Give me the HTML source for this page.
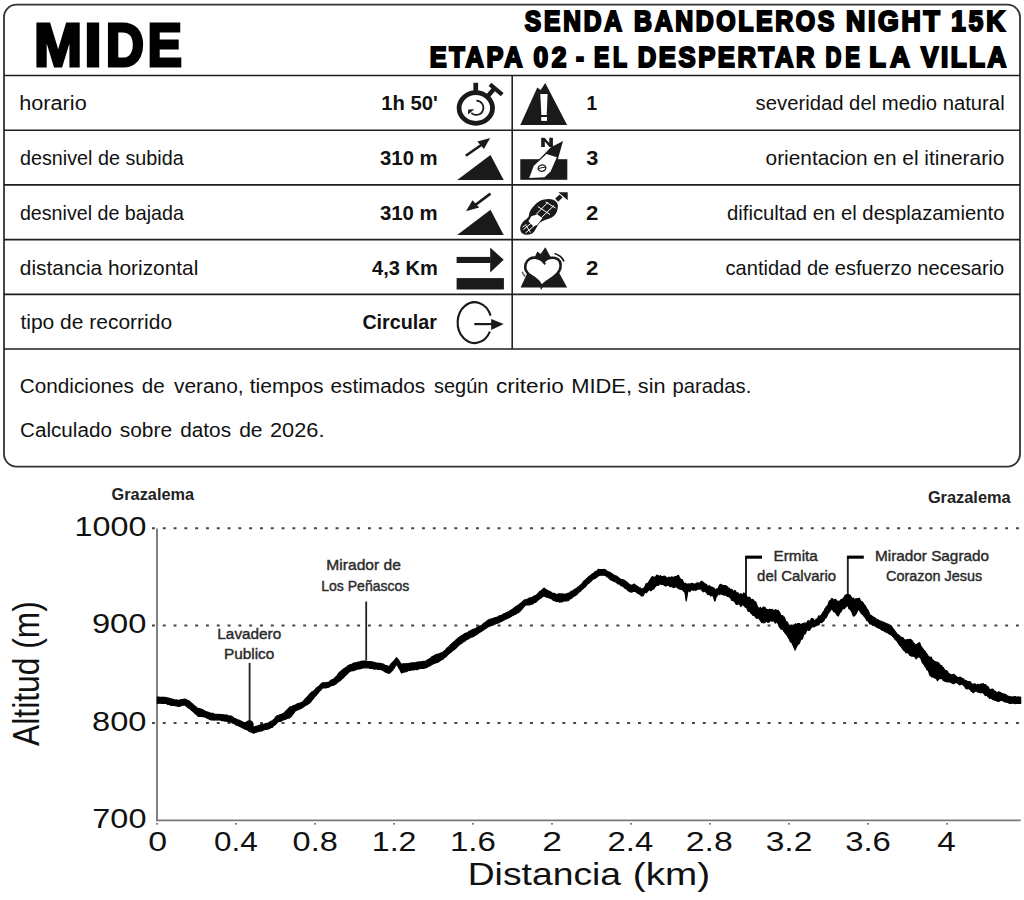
<!DOCTYPE html>
<html><head><meta charset="utf-8"><title>MIDE</title>
<style>html,body{margin:0;padding:0;background:#fff;width:1024px;height:900px;overflow:hidden}svg{display:block}text{font-family:"Liberation Sans",sans-serif}</style>
</head><body>
<svg width="1024" height="900" viewBox="0 0 1024 900">
<rect width="1024" height="900" fill="#fff"/>
<rect x="4.0" y="4.67" width="1016" height="461.9" rx="12.5" ry="12.5" fill="none" stroke="#333" stroke-width="1.8"/>
<line x1="4.0" y1="75.45" x2="1020" y2="75.45" stroke="#1e1e1e" stroke-width="1.6"/>
<line x1="4.0" y1="130.2" x2="1020" y2="130.2" stroke="#1e1e1e" stroke-width="1.6"/>
<line x1="4.0" y1="184.9" x2="1020" y2="184.9" stroke="#1e1e1e" stroke-width="1.6"/>
<line x1="4.0" y1="239.6" x2="1020" y2="239.6" stroke="#1e1e1e" stroke-width="1.6"/>
<line x1="4.0" y1="294.4" x2="1020" y2="294.4" stroke="#1e1e1e" stroke-width="1.6"/>
<line x1="4.0" y1="349.0" x2="1020" y2="349.0" stroke="#1e1e1e" stroke-width="1.6"/>
<line x1="512.2" y1="75.45" x2="512.2" y2="349" stroke="#222" stroke-width="1.6"/>
<text transform="translate(33.92,65.95) scale(0.9472,1.0)" font-size="61" font-weight="bold" fill="#000" stroke="#000" stroke-width="3.1" stroke-linejoin="miter">M</text>
<text transform="translate(84.31,65.95) scale(1.0341,1.0)" font-size="61" font-weight="bold" fill="#000" stroke="#000" stroke-width="3.1" stroke-linejoin="miter">I</text>
<text transform="translate(105.69,65.95) scale(0.8690,1.0)" font-size="61" font-weight="bold" fill="#000" stroke="#000" stroke-width="3.1" stroke-linejoin="miter">D</text>
<text transform="translate(147.57,65.95) scale(0.8480,1.0)" font-size="61" font-weight="bold" fill="#000" stroke="#000" stroke-width="3.1" stroke-linejoin="miter">E</text>
<text transform="translate(524.74,30.90) scale(0.8397,1)" font-size="29.2" font-weight="bold" letter-spacing="3.426" fill="#000" stroke="#000" stroke-width="2.2" stroke-linejoin="miter">SENDA</text>
<text transform="translate(634.10,30.90) scale(0.8503,1)" font-size="29.2" font-weight="bold" letter-spacing="3.098" fill="#000" stroke="#000" stroke-width="2.2" stroke-linejoin="miter">BANDOLEROS</text>
<text transform="translate(845.97,30.90) scale(0.9128,1)" font-size="29.2" font-weight="bold" letter-spacing="3.017" fill="#000" stroke="#000" stroke-width="2.2" stroke-linejoin="miter">NIGHT</text>
<text transform="translate(951.20,30.90) scale(0.8903,1)" font-size="29.2" font-weight="bold" letter-spacing="3.511" fill="#000" stroke="#000" stroke-width="2.2" stroke-linejoin="miter">15K</text>
<text transform="translate(429.67,67.20) scale(0.8666,1)" font-size="29.2" font-weight="bold" letter-spacing="3.130" fill="#000" stroke="#000" stroke-width="2.2" stroke-linejoin="miter">ETAPA</text>
<text transform="translate(533.42,67.20) scale(0.9005,1)" font-size="29.2" font-weight="bold" letter-spacing="4.105" fill="#000" stroke="#000" stroke-width="2.2" stroke-linejoin="miter">02</text>
<text transform="translate(575.91,67.20) scale(0.8133,1.0)" font-size="29.2" font-weight="bold" fill="#000" stroke="#000" stroke-width="2.2" stroke-linejoin="miter">-</text>
<text transform="translate(594.03,67.20) scale(0.7853,1)" font-size="29.2" font-weight="bold" letter-spacing="4.691" fill="#000" stroke="#000" stroke-width="2.2" stroke-linejoin="miter">EL</text>
<text transform="translate(637.75,67.20) scale(0.8755,1)" font-size="29.2" font-weight="bold" letter-spacing="2.988" fill="#000" stroke="#000" stroke-width="2.2" stroke-linejoin="miter">DESPERTAR</text>
<text transform="translate(825.49,67.20) scale(0.7529,1)" font-size="29.2" font-weight="bold" letter-spacing="5.100" fill="#000" stroke="#000" stroke-width="2.2" stroke-linejoin="miter">DE</text>
<text transform="translate(869.15,67.20) scale(0.9263,1)" font-size="29.2" font-weight="bold" letter-spacing="4.923" fill="#000" stroke="#000" stroke-width="2.2" stroke-linejoin="miter">LA</text>
<text transform="translate(921.02,67.20) scale(0.8916,1)" font-size="29.2" font-weight="bold" letter-spacing="2.843" fill="#000" stroke="#000" stroke-width="2.2" stroke-linejoin="miter">VILLA</text>
<text transform="translate(19.18,110.40) scale(1.0850,1.0)" font-size="20" font-weight="normal" fill="#111">horario</text>
<text transform="translate(381.15,110.40) scale(1.0382,1.0)" font-size="19.5" font-weight="bold" fill="#111">1h 50'</text>
<text transform="translate(19.91,165.00) scale(0.9891,1.0)" font-size="20" font-weight="normal" fill="#111">desnivel de subida</text>
<text transform="translate(379.98,165.00) scale(1.0448,1.0)" font-size="19.5" font-weight="bold" fill="#111">310 m</text>
<text transform="translate(19.91,220.00) scale(0.9837,1.0)" font-size="20" font-weight="normal" fill="#111">desnivel de bajada</text>
<text transform="translate(379.88,220.00) scale(1.0466,1.0)" font-size="19.5" font-weight="bold" fill="#111">310 m</text>
<text transform="translate(19.87,274.80) scale(1.0426,1.0)" font-size="20" font-weight="normal" fill="#111">distancia horizontal</text>
<text transform="translate(371.99,274.80) scale(1.0304,1.0)" font-size="19.5" font-weight="bold" fill="#111">4,3 Km</text>
<text transform="translate(20.39,329.40) scale(1.0495,1.0)" font-size="20" font-weight="normal" fill="#111">tipo de recorrido</text>
<text transform="translate(362.39,329.40) scale(1.0110,1.0)" font-size="19.5" font-weight="bold" fill="#111">Circular</text>
<text transform="translate(586.53,110.40) scale(0.9780,1.0)" font-size="19.5" font-weight="bold" fill="#111">1</text>
<text transform="translate(755.59,110.40) scale(1.0148,1.0)" font-size="20" font-weight="normal" fill="#111">severidad del medio natural</text>
<text transform="translate(586.24,165.00) scale(1.1146,1.0)" font-size="19.5" font-weight="bold" fill="#111">3</text>
<text transform="translate(765.57,165.00) scale(1.0431,1.0)" font-size="20" font-weight="normal" fill="#111">orientacion en el itinerario</text>
<text transform="translate(586.00,220.00) scale(1.1383,1.0)" font-size="19.5" font-weight="bold" fill="#111">2</text>
<text transform="translate(726.99,220.00) scale(1.0151,1.0)" font-size="20" font-weight="normal" fill="#111">dificultad en el desplazamiento</text>
<text transform="translate(586.00,274.80) scale(1.1383,1.0)" font-size="19.5" font-weight="bold" fill="#111">2</text>
<text transform="translate(725.60,274.80) scale(1.0033,1.0)" font-size="20" font-weight="normal" fill="#111">cantidad de esfuerzo necesario</text>
<text transform="translate(19.84,392.80) scale(1.0574,1.0)" font-size="19.6" font-weight="normal" fill="#111">Condiciones</text>
<text transform="translate(141.86,392.80) scale(1.0498,1.0)" font-size="19.6" font-weight="normal" fill="#111">de</text>
<text transform="translate(173.99,392.80) scale(1.0661,1.0)" font-size="19.6" font-weight="normal" fill="#111">verano,</text>
<text transform="translate(249.68,392.80) scale(1.0769,1.0)" font-size="19.6" font-weight="normal" fill="#111">tiempos</text>
<text transform="translate(330.55,392.80) scale(1.0604,1.0)" font-size="19.6" font-weight="normal" fill="#111">estimados</text>
<text transform="translate(433.99,392.80) scale(1.0175,1.0)" font-size="19.6" font-weight="normal" fill="#111">según</text>
<text transform="translate(495.98,392.80) scale(1.1538,1.0)" font-size="19.6" font-weight="normal" fill="#111">criterio</text>
<text transform="translate(571.21,392.80) scale(1.1174,1.0)" font-size="19.6" font-weight="normal" fill="#111">MIDE,</text>
<text transform="translate(637.84,392.80) scale(1.1078,1.0)" font-size="19.6" font-weight="normal" fill="#111">sin</text>
<text transform="translate(672.56,392.80) scale(1.0328,1.0)" font-size="19.6" font-weight="normal" fill="#111">paradas.</text>
<text transform="translate(20.05,436.80) scale(1.0539,1.0)" font-size="19.6" font-weight="normal" fill="#111">Calculado</text>
<text transform="translate(119.76,436.80) scale(1.0674,1.0)" font-size="19.6" font-weight="normal" fill="#111">sobre</text>
<text transform="translate(180.25,436.80) scale(1.0603,1.0)" font-size="19.6" font-weight="normal" fill="#111">datos</text>
<text transform="translate(239.14,436.80) scale(1.0746,1.0)" font-size="19.6" font-weight="normal" fill="#111">de</text>
<text transform="translate(269.99,436.80) scale(1.1123,1.0)" font-size="19.6" font-weight="normal" fill="#111">2026.</text>
<ellipse cx="475.8" cy="108" rx="16.7" ry="15.3" fill="none" stroke="#1a1a1a" stroke-width="4.8"/>
<rect x="473.4" y="82.8" width="4.7" height="9" fill="#1a1a1a"/>
<line x1="487.5" y1="96.5" x2="493.5" y2="89.5" stroke="#1a1a1a" stroke-width="4.4"/>
<line x1="490" y1="84.3" x2="502.2" y2="94.7" stroke="#1a1a1a" stroke-width="4.3"/>
<path d="M476.4,100.7 A7.1,7.1 0 1 1 471.3,112.8" fill="none" stroke="#1a1a1a" stroke-width="1.7"/>
<path d="M467.9,114.6 L468.3,109.5 L474.3,109.3 Z" fill="#1a1a1a"/>
<path d="M457.2,179.9 L490.5,155.1 L503.7,179.9 Z" fill="#1a1a1a"/>
<line x1="465.8" y1="155.7" x2="482" y2="144.5" stroke="#1a1a1a" stroke-width="2.6"/>
<path d="M490.2,137.9 L477.4,141.6 L483.9,148.9 Z" fill="#1a1a1a"/>
<path d="M457.2,234.9 L490.5,209.7 L503.7,234.9 Z" fill="#1a1a1a"/>
<line x1="490.5" y1="193.6" x2="474.3" y2="205.8" stroke="#1a1a1a" stroke-width="2.6"/>
<path d="M466,211.3 L472.5,200.3 L479.2,207.6 Z" fill="#1a1a1a"/>
<rect x="456.6" y="256.9" width="34" height="6.1" fill="#1a1a1a"/>
<path d="M490.2,247.6 L503.7,259.8 L490.2,272.4 Z" fill="#1a1a1a"/>
<rect x="456.6" y="278.1" width="47.3" height="11.4" fill="#1a1a1a"/>
<path d="M490.6,315.6 A17,20.4 0 1 0 489.9,331.6" fill="none" stroke="#1a1a1a" stroke-width="2.1"/>
<line x1="474.3" y1="324.1" x2="492" y2="324.1" stroke="#1a1a1a" stroke-width="2.2"/>
<path d="M503.7,324.1 L491.2,318.9 L491.2,329.9 Z" fill="#1a1a1a"/>
<path d="M520.3,125.05 L537.3,87.5 L540.6,90 L545.3,83 L567.1,125.05 Z" fill="#1a1a1a"/>
<path d="M540.3,94.1 L547.6,94.1 L546.7,115 L541.4,115 Z" fill="#fff"/>
<rect x="541.2" y="117" width="5.8" height="3.9" fill="#fff"/>
<rect x="520.3" y="159.2" width="47" height="20.6" fill="#1a1a1a"/>
<path d="M550.6,147.6 L563,141.1 L557.9,159.2 L550.6,172 L544.5,177.8 L528.9,178.4 L533.4,165.3 Z" fill="#1a1a1a"/>
<path d="M546.5,154 L556.8,157.2 L550.6,171.4 L544.5,177.3 L529.2,178.1 L533.7,165.9 Z" fill="#fff"/>
<path d="M541.2,146.9 L541.2,137.7 L544.6,137.7 L549.3,143 L549.3,137.7 L552.9,137.7 L552.9,146.9 L549.5,146.9 L544.8,141.6 L544.8,146.9 Z" fill="#1a1a1a"/>
<ellipse cx="542" cy="168.1" rx="3.9" ry="3.1" fill="none" stroke="#1a1a1a" stroke-width="1.3" transform="rotate(-15 542 168.1)"/>
<path d="M538.6,168.6 Q542,167.3 545.6,167.2" fill="none" stroke="#1a1a1a" stroke-width="1"/>
<path d="M548.4,199.1 C553.5,198.8 558.2,202 557.9,205.8 C557.8,209 557.2,211.3 556.2,213.1 C554.5,216 552.6,217.3 550.6,218.1 C547.3,219.5 545,220 542.8,220.9 C541.2,221.6 540.4,222.2 539.5,223.1 C537.8,225 536.8,227.4 535.6,229.2 C534.4,231.3 533.2,233.1 531.7,233.7 C529.8,234.6 527.8,235 526.1,234.8 C523.8,234.5 521.6,233.3 521.1,232 C520.2,230.3 520,228.7 520.3,227 C520.9,224.6 522,222.9 523.4,221.4 C525,219.8 527.6,218.5 528.4,217 C529.2,215.5 528.9,214.3 529.5,212.5 C530.4,209.8 531.8,208 533.4,206.4 C535.4,204.4 537.6,202.3 540.1,200.8 C542.8,199.6 545.6,199.2 548.4,199.1 Z" fill="#1a1a1a"/>
<path d="M531.4,216.2 L537.3,214.2 L542.3,218.3 L537.3,224.7 L533.4,226.4 L528.4,221.2 Z" fill="#fff"/>
<g stroke="#fff" stroke-width="1" fill="none"><path d="M536.5,214 L548,202.2 M541.5,217.5 L554,205.5 M537.8,206.5 L550,214.5 M545.5,201.8 L555.5,208 M523.5,229.5 L532.5,222 M525.5,233 L534.5,225.5 M526,225.5 L530.5,232.5 M522.5,227 L526.5,224.5"/></g>
<path d="M555.1,198.6 L559.7,194.6 L562.6,197.6 L558.1,201.8 Z" fill="#1a1a1a"/>
<path d="M558.4,192.2 L567.7,192.2 L567.7,200.3 Z" fill="#1a1a1a"/>
<path d="M520.6,287.5 L537.3,251.6 L540.6,253.9 L545.3,247.2 L567.1,287.5 Z" fill="#1a1a1a"/>
<path d="M541.45,286.71 C540.06,281.98 536.16,278.63 531.15,275.85 C526.14,273.07 524.47,268.61 525.58,264.16 C526.97,259.15 531.70,257.20 535.60,257.76 C538.94,258.31 541.73,259.70 543.67,261.65 C546.18,258.87 550.63,257.20 555.09,258.03 C559.54,259.15 561.21,263.04 560.38,268.06 C559.54,273.07 555.09,276.41 549.52,279.75 C545.07,282.53 542.84,284.21 541.45,286.71 Z" fill="#fff" stroke="#1a1a1a" stroke-width="2.6"/>
<line x1="542.3" y1="260.3" x2="545.1" y2="264.4" stroke="#1a1a1a" stroke-width="2"/>
<path d="M554.5,253.4 C558.5,254.6 562.5,257.5 564,261.6" fill="none" stroke="#1a1a1a" stroke-width="1.6"/>
<path d="M522.2,271.8 C522.8,273.5 523.8,275.3 525.2,276.6" fill="none" stroke="#555" stroke-width="1.4"/>
<line x1="152.0" y1="528.3" x2="1020" y2="528.3" stroke="#444" stroke-width="2" stroke-dasharray="2.9 7.9"/>
<line x1="152.0" y1="625.4" x2="1020" y2="625.4" stroke="#444" stroke-width="2" stroke-dasharray="2.9 7.9"/>
<line x1="152.0" y1="722.9" x2="1020" y2="722.9" stroke="#444" stroke-width="2" stroke-dasharray="2.9 7.9"/>
<line x1="157" y1="528.5" x2="157" y2="820.3" stroke="#7a7a7a" stroke-width="1.9"/>
<line x1="156" y1="820.3" x2="1020.7" y2="820.3" stroke="#7a7a7a" stroke-width="1.7"/>
<rect x="156.2" y="823" width="1.6" height="1.6" fill="#555"/>
<rect x="235.2" y="823" width="1.6" height="1.6" fill="#555"/>
<rect x="314.2" y="823" width="1.6" height="1.6" fill="#555"/>
<rect x="393.2" y="823" width="1.6" height="1.6" fill="#555"/>
<rect x="472.2" y="823" width="1.6" height="1.6" fill="#555"/>
<rect x="551.2" y="823" width="1.6" height="1.6" fill="#555"/>
<rect x="630.2" y="823" width="1.6" height="1.6" fill="#555"/>
<rect x="709.2" y="823" width="1.6" height="1.6" fill="#555"/>
<rect x="788.2" y="823" width="1.6" height="1.6" fill="#555"/>
<rect x="867.2" y="823" width="1.6" height="1.6" fill="#555"/>
<rect x="946.2" y="823" width="1.6" height="1.6" fill="#555"/>
<text transform="translate(74.59,535.90) scale(1.2049,1.0)" font-size="26.8" font-weight="normal" fill="#111">1000</text>
<text transform="translate(91.91,632.80) scale(1.2193,1.0)" font-size="26.8" font-weight="normal" fill="#111">900</text>
<text transform="translate(92.04,730.70) scale(1.2165,1.0)" font-size="26.8" font-weight="normal" fill="#111">800</text>
<text transform="translate(92.31,828.00) scale(1.2104,1.0)" font-size="26.8" font-weight="normal" fill="#111">700</text>
<text transform="translate(148.24,850.50) scale(1.2636,1.0)" font-size="26.8" font-weight="normal" fill="#111">0</text>
<text transform="translate(214.03,850.50) scale(1.1746,1.0)" font-size="26.8" font-weight="normal" fill="#111">0.4</text>
<text transform="translate(292.59,850.50) scale(1.2137,1.0)" font-size="26.8" font-weight="normal" fill="#111">0.8</text>
<text transform="translate(371.80,850.50) scale(1.2000,1.0)" font-size="26.8" font-weight="normal" fill="#111">1.2</text>
<text transform="translate(449.93,850.50) scale(1.2346,1.0)" font-size="26.8" font-weight="normal" fill="#111">1.6</text>
<text transform="translate(542.28,850.50) scale(1.3252,1.0)" font-size="26.8" font-weight="normal" fill="#111">2</text>
<text transform="translate(607.61,850.50) scale(1.2216,1.0)" font-size="26.8" font-weight="normal" fill="#111">2.4</text>
<text transform="translate(685.76,850.50) scale(1.2615,1.0)" font-size="26.8" font-weight="normal" fill="#111">2.8</text>
<text transform="translate(765.65,850.50) scale(1.2543,1.0)" font-size="26.8" font-weight="normal" fill="#111">3.2</text>
<text transform="translate(845.17,850.50) scale(1.2251,1.0)" font-size="26.8" font-weight="normal" fill="#111">3.6</text>
<text transform="translate(937.26,850.50) scale(1.2370,1.0)" font-size="26.8" font-weight="normal" fill="#111">4</text>
<text transform="translate(467.66,885.00) scale(1.2157,1.0)" font-size="30.7" font-weight="normal" fill="#111">Distancia</text>
<text transform="translate(632.81,885.00) scale(1.2591,1.0)" font-size="30.7" font-weight="normal" fill="#111">(km)</text>
<text transform="translate(38.7,745.90) rotate(-90) scale(1.0244,1.2178)" font-size="31" fill="#111">Altitud (m)</text>
<text transform="translate(111.59,499.80) scale(1.0136,1.0)" font-size="16.1" font-weight="bold" fill="#222">Grazalema</text>
<text transform="translate(927.89,503.00) scale(1.0173,1.0)" font-size="16.1" font-weight="bold" fill="#222">Grazalema</text>
<line x1="249.6" y1="662.9" x2="249.6" y2="724" stroke="#222" stroke-width="1.8"/>
<circle cx="249.4" cy="724.5" r="4.3" fill="#000"/>
<line x1="366.2" y1="601.5" x2="366.2" y2="660" stroke="#222" stroke-width="1.8"/>
<line x1="746" y1="556.5" x2="746" y2="597" stroke="#222" stroke-width="2"/>
<rect x="745.2" y="555.6" width="16.8" height="3.1" fill="#000"/>
<line x1="847.8" y1="556.5" x2="847.8" y2="597" stroke="#222" stroke-width="1.9"/>
<rect x="847" y="555.6" width="16.8" height="3.1" fill="#000"/>
<circle cx="847.7" cy="598" r="4" fill="#000"/>
<text transform="translate(217.36,638.80) scale(1.0351,1.0)" font-size="14.8" font-weight="normal" fill="#2a2a2a" stroke="#2a2a2a" stroke-width="0.4">Lavadero</text>
<text transform="translate(223.95,659.30) scale(1.0385,1.0)" font-size="14.8" font-weight="normal" fill="#2a2a2a" stroke="#2a2a2a" stroke-width="0.4">Publico</text>
<text transform="translate(326.34,570.20) scale(1.0537,1.0)" font-size="14.8" font-weight="normal" fill="#2a2a2a" stroke="#2a2a2a" stroke-width="0.4">Mirador de</text>
<text transform="translate(321.16,590.70) scale(0.9496,1.0)" font-size="14.8" font-weight="normal" fill="#2a2a2a" stroke="#2a2a2a" stroke-width="0.4">Los Peñascos</text>
<text transform="translate(773.56,560.60) scale(1.0361,1.0)" font-size="14.8" font-weight="normal" fill="#2a2a2a" stroke="#2a2a2a" stroke-width="0.4">Ermita</text>
<text transform="translate(757.09,581.10) scale(1.0117,1.0)" font-size="14.8" font-weight="normal" fill="#2a2a2a" stroke="#2a2a2a" stroke-width="0.4">del Calvario</text>
<text transform="translate(875.06,560.60) scale(1.0341,1.0)" font-size="14.8" font-weight="normal" fill="#2a2a2a" stroke="#2a2a2a" stroke-width="0.4">Mirador Sagrado</text>
<text transform="translate(886.12,581.10) scale(0.9743,1.0)" font-size="14.8" font-weight="normal" fill="#2a2a2a" stroke="#2a2a2a" stroke-width="0.4">Corazon Jesus</text>
<path d="M157.3,697.1 158.8,697.1 160.3,697.4 161.8,697.4 163.3,697.2 164.6,697.6 164.8,697.3 166.3,697.6 167.8,698.1 169.3,698.2 170.8,698.8 172.3,699.0 172.5,699.0 173.8,699.7 175.3,700.0 176.8,699.9 178.3,700.5 179.8,700.0 181.3,699.5 182.8,699.5 184.2,699.0 184.3,699.1 185.8,699.3 187.3,700.4 188.8,700.7 189.1,701.0 190.3,702.0 191.8,703.6 193.3,704.6 194.0,705.4 194.8,706.0 196.3,707.3 197.8,708.6 197.9,708.3 199.3,708.7 200.8,709.1 202.3,709.5 203.7,710.3 203.8,710.5 205.3,711.2 206.8,711.8 208.3,712.3 209.8,713.1 210.5,713.2 211.3,713.3 212.8,713.3 214.3,714.0 215.8,714.4 217.3,714.4 218.4,714.7 218.8,714.4 220.3,714.6 221.8,714.6 223.3,714.8 224.8,715.0 226.2,715.2 226.3,714.9 227.8,715.5 229.3,716.0 230.8,715.9 231.1,716.1 232.3,716.8 233.8,718.1 235.3,718.5 235.9,719.1 236.8,719.3 238.3,720.2 239.8,720.4 241.3,721.3 242.8,722.0 244.3,722.6 245.8,722.5 247.3,722.9 248.6,723.0 248.8,723.4 250.3,724.7 251.8,725.6 253.3,726.7 253.8,727.4 254.8,726.7 256.3,726.3 257.8,725.9 259.3,725.2 259.6,725.4 260.8,724.8 262.3,724.3 263.8,724.3 265.3,723.7 266.5,723.5 266.8,723.3 268.3,723.0 269.8,722.1 271.3,721.1 272.3,721.0 272.8,720.3 274.3,719.1 275.8,716.9 277.2,715.7 277.3,715.7 278.8,715.2 280.3,714.6 281.8,714.3 283.3,713.3 284.1,713.2 284.8,712.2 286.3,710.8 287.8,709.1 289.3,707.8 289.9,706.9 290.8,706.8 292.3,706.3 293.8,705.4 295.3,705.0 295.8,704.9 296.8,704.1 298.3,703.5 299.8,703.2 301.3,702.5 302.8,701.7 303.6,701.0 304.3,700.0 305.8,698.3 307.3,696.8 308.8,695.2 309.5,694.2 310.3,693.6 311.8,692.0 313.3,691.3 314.8,689.9 315.3,689.3 316.3,688.1 317.8,686.9 319.3,685.9 320.8,684.1 322.1,683.0 322.3,683.1 323.8,682.6 325.3,683.0 326.8,682.4 328.0,682.5 328.3,682.6 329.8,681.2 331.3,680.1 332.8,679.7 334.3,678.4 334.8,678.1 335.8,676.9 337.3,675.4 338.8,673.2 340.0,672.0 340.3,671.6 341.8,670.4 343.3,669.2 344.8,668.2 346.3,667.2 347.8,665.9 348.8,665.2 349.3,665.0 350.8,664.5 352.3,664.0 353.8,663.1 355.3,662.8 356.8,662.6 357.6,662.2 358.3,662.0 359.8,661.8 361.3,661.3 362.8,661.1 364.3,661.2 365.4,660.8 365.8,660.9 367.3,661.4 368.8,661.5 370.3,661.7 371.8,661.9 373.2,662.2 373.3,662.2 374.8,662.6 376.3,663.1 377.8,663.1 379.3,663.6 380.8,663.4 381.0,663.7 382.3,663.9 383.8,664.4 385.3,665.5 386.8,665.6 388.3,666.5 388.8,666.6 389.8,665.7 391.3,663.6 392.7,662.2 392.8,662.0 394.3,660.7 395.8,658.5 396.6,657.8 397.3,658.7 398.8,660.5 400.3,662.8 401.5,664.2 401.8,664.2 403.3,663.7 404.8,664.0 406.3,663.5 407.8,663.9 408.4,663.7 409.3,663.3 410.8,663.0 412.3,662.9 413.8,662.8 415.3,662.9 416.8,662.2 418.1,662.2 418.3,662.2 419.8,661.7 421.3,662.0 422.8,661.4 424.3,661.6 425.8,661.0 425.9,661.3 427.3,660.0 428.8,659.2 430.3,658.2 431.8,656.9 432.8,656.4 433.3,656.2 434.8,655.2 436.3,654.5 437.8,654.0 438.0,654.0 439.3,653.8 440.8,653.1 442.3,652.5 442.8,652.5 443.8,651.3 445.3,650.2 446.8,648.3 448.3,647.3 449.8,645.7 450.6,644.7 451.3,644.1 452.8,642.7 454.3,641.6 455.8,640.1 457.3,639.0 458.4,637.9 458.8,637.6 460.3,636.4 461.8,635.5 463.3,634.7 464.8,633.6 466.3,633.0 467.8,632.5 469.3,631.3 470.8,630.6 472.3,629.8 473.8,629.1 474.1,629.1 475.3,628.8 476.8,627.6 478.3,626.9 479.8,625.9 481.3,625.5 481.9,625.2 482.8,624.3 484.3,623.0 485.8,622.0 487.3,620.8 488.8,619.8 489.7,619.3 490.3,619.2 491.8,618.8 493.3,618.3 494.8,617.7 496.3,617.6 497.5,616.9 497.8,616.9 499.3,615.8 500.8,615.7 502.3,614.9 503.8,613.8 505.3,613.4 506.8,612.6 508.3,611.9 509.8,610.9 511.3,610.1 512.8,609.0 513.1,609.0 514.3,607.8 515.8,606.6 517.3,605.8 518.8,604.7 520.0,603.7 520.3,603.4 521.8,602.5 523.3,601.0 524.8,599.8 526.3,599.5 527.8,599.1 529.3,597.9 530.0,598.1 530.8,597.9 532.3,597.2 533.8,596.2 535.3,595.5 535.9,595.2 536.8,594.7 538.3,593.2 539.8,591.4 541.3,590.7 542.8,589.2 543.7,588.3 544.3,588.2 545.8,589.6 547.3,590.3 548.8,591.0 549.5,591.3 550.3,591.7 551.8,592.8 553.3,593.6 554.8,593.4 555.4,594.2 556.3,594.5 557.8,594.1 559.3,593.9 560.8,593.9 561.3,594.2 562.3,593.7 563.8,594.3 565.3,594.0 566.8,593.9 568.3,593.0 569.1,593.2 569.8,592.7 571.3,591.3 572.8,590.8 574.3,589.6 575.8,588.8 576.9,588.3 577.3,587.4 578.8,586.7 580.3,585.3 581.8,583.8 583.3,581.8 584.7,580.5 584.8,580.9 586.3,579.0 587.8,577.7 589.3,576.2 590.5,575.6 590.8,575.1 592.3,573.9 593.8,573.0 595.3,571.6 596.8,571.0 598.3,569.5 598.4,569.3 599.8,569.7 601.3,569.5 602.8,569.5 604.2,569.3 604.3,569.6 605.8,570.0 607.3,571.5 608.8,571.9 610.3,572.5 611.8,574.1 612.0,573.7 613.3,574.7 614.8,575.5 616.3,576.1 617.8,577.1 619.3,578.3 619.8,578.6 620.8,579.5 622.3,579.7 623.8,580.1 625.0,581.0 625.3,581.1 626.8,582.1 628.3,583.5 629.8,584.8 630.9,585.4 631.3,585.2 632.8,584.8 634.3,584.1 634.8,584.4 635.8,585.6 637.3,586.2 638.8,587.6 640.3,587.8 641.6,589.3 641.8,588.9 643.3,588.7 644.8,587.0 646.3,583.5 647.5,583.4 647.8,583.9 649.3,581.1 650.8,578.5 652.3,576.6 653.8,577.2 655.3,577.4 656.8,575.1 658.3,575.9 659.8,576.7 660.2,575.6 661.3,576.4 662.8,576.5 664.3,576.0 665.8,577.0 667.0,578.1 667.3,578.4 668.8,577.1 670.3,578.1 671.8,576.8 672.9,577.6 673.3,577.5 674.8,576.7 676.3,576.7 677.8,575.4 678.7,575.6 679.3,577.5 680.8,579.3 682.3,579.7 683.8,583.4 684.6,583.4 685.3,583.2 686.2,584.0 686.8,584.0 687.8,584.0 688.3,583.8 689.8,584.4 691.3,583.3 692.8,583.5 693.4,583.9 694.3,584.1 695.8,583.9 697.3,582.7 698.8,583.4 700.3,582.5 701.2,581.5 701.8,581.2 703.3,582.4 704.8,583.9 706.3,584.3 707.0,585.4 707.8,586.2 709.3,585.7 710.8,586.7 712.3,587.3 713.0,588.5 713.8,587.8 714.8,589.3 715.3,590.2 716.6,589.0 716.8,589.3 718.3,588.1 719.8,584.7 720.7,584.4 721.3,585.2 721.8,584.8 722.8,585.6 724.3,585.6 725.8,585.7 727.3,586.7 728.8,588.9 729.6,588.2 730.3,590.1 731.8,589.3 733.3,591.7 734.8,590.4 736.3,592.4 737.5,593.6 737.8,592.7 739.3,595.0 740.8,593.7 742.3,595.0 743.8,592.9 745.3,594.5 746.8,596.8 748.3,597.4 749.8,597.3 751.3,600.2 752.1,599.4 752.8,599.5 754.3,601.3 755.8,602.1 757.3,606.5 758.8,608.3 759.9,608.2 760.3,607.3 761.8,609.1 763.3,607.0 763.8,607.2 764.8,607.3 766.3,609.3 767.8,609.5 769.3,610.0 769.7,609.2 770.8,609.8 772.3,609.3 773.8,611.0 775.3,609.7 776.8,610.2 777.5,611.1 778.3,610.5 779.8,612.9 781.3,616.1 782.8,615.7 783.4,617.0 784.3,617.2 785.8,621.3 787.3,622.1 788.8,625.6 789.2,625.8 790.3,626.2 791.8,625.4 793.3,625.4 794.8,624.1 795.1,623.8 796.3,624.7 797.8,623.5 799.3,623.5 800.8,625.0 800.9,624.8 802.3,623.7 803.8,623.2 805.3,623.2 806.8,622.9 807.8,620.9 808.3,620.7 809.8,621.5 811.3,618.7 812.8,618.6 814.3,620.9 815.8,620.4 815.9,619.1 817.3,619.0 818.8,615.8 820.3,616.5 821.8,614.2 823.3,611.7 823.7,612.2 824.8,609.2 826.3,606.9 827.8,605.5 829.3,601.0 830.8,600.2 831.5,598.6 832.3,598.6 833.8,600.2 835.3,599.3 836.8,600.7 838.3,601.5 839.8,601.0 841.3,599.3 842.2,599.5 842.8,598.8 844.3,597.2 845.8,595.9 847.3,594.6 847.6,594.6 848.8,596.3 850.3,596.4 851.8,598.3 853.3,598.0 853.9,599.5 854.8,599.2 856.3,598.9 857.8,598.7 858.8,598.6 859.3,598.2 860.8,601.2 862.3,601.8 863.8,604.1 864.7,605.4 865.3,605.7 866.8,609.0 868.3,610.7 869.8,614.6 870.5,615.2 871.3,615.5 872.8,616.9 874.3,617.5 875.8,618.7 877.3,619.6 878.4,620.0 878.8,620.4 880.3,621.0 881.8,621.4 883.3,622.4 884.8,622.6 885.2,623.0 886.3,623.6 887.8,624.0 889.3,625.2 890.8,625.4 891.1,625.9 892.3,627.6 893.8,629.6 895.3,631.6 896.8,633.6 897.9,634.7 898.3,634.8 899.8,636.1 901.3,637.4 902.8,637.6 903.8,639.6 904.3,639.6 905.8,640.3 907.3,639.6 908.8,639.7 909.9,639.8 910.3,639.2 911.8,640.4 913.3,642.6 914.8,644.2 915.7,644.6 916.3,644.9 917.8,643.6 919.3,642.9 919.6,642.7 920.8,645.8 922.3,648.0 923.8,650.2 925.3,651.4 925.5,652.5 926.8,653.8 928.3,656.3 929.8,657.4 931.3,657.2 931.4,658.3 932.8,659.9 934.3,661.2 935.8,662.0 937.2,662.2 937.3,662.3 938.8,663.1 940.3,665.3 941.8,665.7 942.1,667.1 943.3,667.5 944.8,670.2 946.3,670.5 947.8,671.9 948.0,673.0 949.3,673.8 950.8,674.9 952.3,674.8 953.8,674.2 955.3,676.0 955.8,675.9 956.8,677.0 958.3,678.0 959.8,677.1 961.3,677.8 962.8,679.1 963.6,678.8 964.3,680.0 965.8,680.5 967.3,681.3 968.8,681.6 970.3,681.9 971.4,683.7 971.8,684.1 973.3,684.2 974.8,683.7 976.3,685.3 977.8,684.1 979.2,685.7 979.3,684.7 980.8,684.1 982.3,684.2 983.1,683.5 983.8,684.4 985.3,684.5 986.8,686.1 988.3,687.0 989.0,688.6 989.8,689.8 991.3,689.3 992.8,689.0 994.3,691.0 995.1,691.2 995.8,691.8 997.3,692.9 998.8,691.8 1000.3,692.5 1001.8,693.3 1003.3,693.9 1004.8,694.3 1006.3,694.9 1007.8,696.2 1009.3,696.4 1009.6,696.7 1010.8,696.8 1012.3,697.0 1013.8,696.8 1015.3,696.6 1016.8,697.2 1018.3,696.7 1019.8,697.3 1020.7,697.2 L1020.7,703.3 1019.8,703.3 1018.3,703.5 1016.8,703.5 1015.3,703.6 1013.8,703.2 1012.3,703.1 1010.8,703.4 1009.6,703.3 1009.3,703.3 1007.8,702.4 1006.3,702.2 1004.8,701.8 1003.3,700.9 1001.8,700.5 1000.3,700.5 998.8,701.5 997.3,701.1 995.8,700.4 995.1,700.5 994.3,699.7 992.8,699.7 991.3,698.0 989.8,698.5 989.0,697.4 988.3,697.2 986.8,694.9 985.3,695.6 983.8,693.4 983.1,692.9 982.3,692.1 980.8,692.9 979.3,692.2 979.2,692.5 977.8,692.0 976.3,691.0 974.8,691.3 973.3,692.7 971.8,691.4 971.4,691.5 970.3,689.8 968.8,688.4 967.3,688.8 965.8,688.5 964.3,685.6 963.6,685.7 962.8,684.3 961.3,684.0 959.8,684.9 958.3,683.8 956.8,682.5 955.8,682.7 955.3,682.4 953.8,683.7 952.3,683.2 950.8,682.3 949.3,681.6 948.0,681.8 947.8,681.8 946.3,681.6 944.8,681.1 943.3,680.5 942.1,678.8 941.8,678.1 940.3,678.7 938.8,678.9 937.3,680.8 937.2,679.8 935.8,678.2 934.3,677.8 932.8,676.8 931.4,676.9 931.3,676.4 929.8,675.0 928.3,670.4 926.8,669.6 925.5,666.1 925.3,667.0 923.8,664.3 922.3,662.5 920.8,658.2 919.6,657.3 919.3,657.1 917.8,656.7 916.3,658.8 915.7,658.3 914.8,656.8 913.3,656.0 911.8,656.2 910.3,655.4 909.9,655.4 908.8,653.5 907.3,652.5 905.8,652.6 904.3,650.1 903.8,650.3 902.8,649.3 901.3,646.8 899.8,645.4 898.3,643.2 897.9,642.5 896.8,640.8 895.3,639.6 893.8,637.5 892.3,635.8 891.1,634.7 890.8,634.6 889.3,634.1 887.8,632.9 886.3,632.3 885.2,631.8 884.8,631.5 883.3,630.5 881.8,630.1 880.3,628.8 878.8,627.9 878.4,627.9 877.3,627.4 875.8,626.5 874.3,625.5 872.8,625.4 871.3,624.0 870.5,623.9 869.8,624.0 868.3,621.3 866.8,620.4 865.3,617.4 864.7,617.1 863.8,615.9 862.3,614.2 860.8,612.8 859.3,610.1 858.8,609.3 857.8,610.0 856.3,613.5 854.8,615.5 853.9,616.1 853.3,615.9 851.8,611.9 850.3,609.4 848.8,608.4 847.6,605.4 847.3,605.4 845.8,606.8 844.3,608.7 842.8,608.4 842.2,609.3 841.3,611.3 839.8,612.7 838.3,616.1 836.8,614.7 835.3,612.3 833.8,611.7 832.3,609.5 831.5,609.3 830.8,609.7 829.3,612.1 827.8,614.0 826.3,617.4 824.8,618.5 823.7,621.0 823.3,620.9 821.8,622.6 820.3,622.0 818.8,624.9 817.3,624.9 815.9,625.9 815.8,625.6 814.3,626.9 812.8,626.4 811.3,627.4 809.8,630.0 808.3,630.4 807.8,629.7 806.8,629.9 805.3,633.7 803.8,634.6 802.3,639.0 800.9,639.5 800.8,639.2 799.3,643.6 797.8,644.5 796.3,647.1 795.1,650.2 794.8,649.2 793.3,646.0 791.8,642.5 790.3,641.7 789.2,638.5 788.8,638.5 787.3,635.7 785.8,633.8 784.3,631.9 783.4,630.7 782.8,628.7 781.3,629.4 779.8,627.4 778.3,624.1 777.5,622.9 776.8,621.4 775.3,623.1 773.8,620.7 772.3,621.2 770.8,620.7 769.7,620.9 769.3,621.9 767.8,622.3 766.3,621.1 764.8,622.5 763.8,622.9 763.3,621.8 761.8,622.7 760.3,620.1 759.9,619.9 758.8,617.7 757.3,618.4 755.8,617.6 754.3,615.1 752.8,615.3 752.1,614.1 751.3,613.6 749.8,611.1 748.3,611.4 746.8,608.0 745.3,607.2 743.8,605.3 742.3,604.7 740.8,606.5 739.3,603.6 737.8,604.0 737.5,604.3 736.3,604.5 734.8,601.9 733.3,600.5 731.8,600.4 730.3,597.2 729.6,597.5 728.8,596.3 727.3,596.3 725.8,594.8 724.3,595.1 722.8,594.6 721.8,594.5 721.3,592.8 720.7,593.2 719.8,594.6 718.3,593.8 716.8,596.1 716.6,595.0 715.3,600.3 714.8,601.0 713.8,598.0 713.0,596.0 712.3,594.6 710.8,596.1 709.3,594.0 707.8,594.7 707.0,593.2 706.3,592.5 704.8,591.0 703.3,591.8 701.8,590.3 701.2,589.3 700.3,588.8 698.8,589.2 697.3,589.1 695.8,590.6 694.3,589.5 693.4,590.3 692.8,590.2 691.3,589.4 689.8,591.8 688.3,590.4 687.8,591.0 686.8,597.7 686.2,601.0 685.3,594.4 684.6,591.3 683.8,591.4 682.3,589.5 680.8,589.3 679.3,589.0 678.7,588.3 677.8,588.1 676.3,586.7 674.8,587.0 673.3,587.6 672.9,587.3 671.8,585.9 670.3,586.9 668.8,585.4 667.3,585.0 667.0,585.4 665.8,586.1 664.3,585.3 662.8,584.3 661.3,584.4 660.2,583.4 659.8,584.2 658.3,585.3 656.8,585.1 655.3,586.5 653.8,589.0 652.3,589.3 650.8,590.9 649.3,589.4 647.8,591.1 647.5,591.3 646.3,592.8 644.8,592.3 643.3,595.6 641.8,595.8 641.6,596.1 640.3,594.6 638.8,593.8 637.3,593.2 635.8,591.6 634.8,591.3 634.3,591.2 632.8,591.6 631.3,592.1 630.9,592.2 629.8,591.4 628.3,590.9 626.8,589.2 625.3,588.1 625.0,588.3 623.8,587.0 622.3,585.9 620.8,585.6 619.8,584.4 619.3,583.9 617.8,583.8 616.3,582.3 614.8,581.8 613.3,581.0 612.0,580.5 611.8,580.1 610.3,579.6 608.8,578.1 607.3,576.9 605.8,575.8 604.3,575.3 604.2,575.1 602.8,575.2 601.3,574.9 599.8,575.5 598.4,575.6 598.3,576.1 596.8,577.1 595.3,578.4 593.8,578.7 592.3,579.9 590.8,581.7 590.5,581.5 589.3,583.0 587.8,583.7 586.3,585.6 584.8,587.3 584.7,587.3 583.3,588.4 581.8,589.7 580.3,591.4 578.8,592.1 577.3,594.1 576.9,594.2 575.8,595.4 574.3,596.0 572.8,597.1 571.3,598.4 569.8,599.0 569.1,600.0 568.3,600.6 566.8,600.8 565.3,601.0 563.8,601.0 562.3,601.8 561.3,602.0 560.8,602.0 559.3,602.1 557.8,601.2 556.3,601.6 555.4,601.0 554.8,600.7 553.3,600.4 551.8,598.9 550.3,598.1 549.5,598.1 548.8,597.8 547.3,597.1 545.8,597.0 544.3,596.1 543.7,596.1 542.8,596.3 541.3,597.7 539.8,598.8 538.3,599.8 536.8,601.4 535.9,602.0 535.3,602.5 533.8,602.9 532.3,604.2 530.8,604.2 530.0,604.9 529.3,604.8 527.8,604.9 526.3,605.0 524.8,605.6 523.3,607.5 521.8,609.5 520.3,610.6 520.0,611.5 518.8,612.3 517.3,613.1 515.8,614.1 514.3,614.6 513.1,615.4 512.8,615.2 511.3,616.4 509.8,617.3 508.3,618.0 506.8,618.8 505.3,619.3 503.8,620.1 502.3,621.0 500.8,621.6 499.3,622.5 497.8,623.2 497.5,623.2 496.3,623.4 494.8,624.1 493.3,625.0 491.8,625.4 490.3,625.9 489.7,626.1 488.8,626.5 487.3,627.3 485.8,628.5 484.3,629.3 482.8,630.4 481.9,631.0 481.3,631.4 479.8,632.2 478.3,633.2 476.8,634.5 475.3,635.2 474.1,635.9 473.8,636.4 472.3,636.8 470.8,637.5 469.3,638.1 467.8,639.2 466.3,639.8 464.8,641.2 463.3,641.8 461.8,643.3 460.3,644.0 458.8,645.3 458.4,645.7 457.3,646.8 455.8,648.2 454.3,649.6 452.8,650.6 451.3,652.1 450.6,652.5 449.8,653.1 448.3,654.2 446.8,655.8 445.3,657.2 443.8,658.1 442.8,659.3 442.3,659.3 440.8,660.3 439.3,661.3 438.0,662.3 437.8,662.2 436.3,662.7 434.8,663.2 433.3,663.8 432.8,664.2 431.8,664.4 430.3,665.7 428.8,666.1 427.3,667.2 425.9,667.6 425.8,667.9 424.3,668.1 422.8,668.5 421.3,668.4 419.8,668.5 418.3,669.2 418.1,669.1 416.8,669.6 415.3,669.3 413.8,670.0 412.3,669.7 410.8,670.3 409.3,670.2 408.4,670.5 407.8,671.0 406.3,671.6 404.8,671.8 403.3,672.2 401.8,672.8 401.5,673.0 400.3,670.5 398.8,668.0 397.3,665.3 396.6,664.2 395.8,665.3 394.3,667.9 392.8,669.8 392.7,670.0 391.3,671.6 389.8,672.9 388.8,673.5 388.3,673.0 386.8,672.7 385.3,672.0 383.8,671.1 382.3,670.1 381.0,669.6 380.8,669.5 379.3,669.1 377.8,669.5 376.3,668.8 374.8,669.1 373.3,668.9 373.2,668.6 371.8,668.4 370.3,668.4 368.8,668.0 367.3,667.8 365.8,667.8 365.4,667.6 364.3,667.8 362.8,667.9 361.3,668.4 359.8,668.9 358.3,669.0 357.6,669.1 356.8,669.4 355.3,669.8 353.8,670.6 352.3,670.6 350.8,671.0 349.3,671.9 348.8,672.0 347.8,673.3 346.3,674.8 344.8,676.0 343.3,677.8 341.8,678.9 340.3,680.6 340.0,680.8 338.8,681.5 337.3,682.5 335.8,684.0 334.8,684.4 334.3,684.9 332.8,685.4 331.3,685.6 329.8,686.6 328.3,687.3 328.0,687.3 326.8,687.7 325.3,688.0 323.8,687.8 322.3,688.0 322.1,688.3 320.8,690.1 319.3,691.4 317.8,693.4 316.3,695.2 315.3,696.1 314.8,696.7 313.3,698.7 311.8,700.4 310.3,702.3 309.5,703.0 308.8,703.4 307.3,704.7 305.8,705.2 304.3,706.2 303.6,706.9 302.8,707.2 301.3,708.4 299.8,708.8 298.3,709.7 296.8,710.1 295.8,710.8 295.3,711.0 293.8,713.1 292.3,715.0 290.8,716.8 289.9,717.6 289.3,718.1 287.8,718.1 286.3,719.0 284.8,719.5 284.1,719.6 283.3,719.8 281.8,720.7 280.3,721.5 278.8,721.5 277.3,722.2 277.2,722.5 275.8,724.2 274.3,725.2 272.8,726.7 272.3,727.4 271.3,727.4 269.8,728.2 268.3,729.1 266.8,728.9 266.5,729.3 265.3,729.5 263.8,729.8 262.3,730.8 260.8,730.9 259.6,731.3 259.3,731.2 257.8,731.6 256.3,732.1 254.8,732.6 253.8,733.2 253.3,733.1 251.8,732.2 250.3,731.8 248.8,731.1 248.6,730.8 247.3,729.8 245.8,729.5 244.3,728.8 242.8,727.9 241.3,727.3 239.8,726.5 238.3,725.8 236.8,725.3 235.9,724.9 235.3,724.3 233.8,723.4 232.3,723.0 231.1,722.0 230.8,721.9 229.3,721.9 227.8,721.6 226.3,721.0 226.2,721.0 224.8,721.1 223.3,720.5 221.8,720.6 220.3,720.0 218.8,720.0 218.4,720.0 217.3,720.1 215.8,719.7 214.3,720.1 212.8,719.9 211.3,719.8 210.5,719.6 209.8,719.6 208.3,718.6 206.8,718.0 205.3,717.2 203.8,716.7 203.7,716.6 202.3,716.6 200.8,716.3 199.3,716.4 197.9,716.1 197.8,715.7 196.3,714.4 194.8,713.3 194.0,712.2 193.3,711.7 191.8,710.6 190.3,709.1 189.1,708.3 188.8,708.2 187.3,707.0 185.8,705.8 184.3,704.7 184.2,704.9 182.8,705.2 181.3,705.7 179.8,706.2 178.3,706.4 176.8,705.9 175.3,705.7 173.8,705.3 172.5,705.4 172.3,705.3 170.8,705.3 169.3,704.4 167.8,704.4 166.3,703.5 164.8,703.4 164.6,703.4 163.3,703.4 161.8,703.3 160.3,703.1 158.8,703.2 157.3,703.4 Z" fill="#000" stroke="#000" stroke-width="1.2" stroke-linejoin="round"/>
</svg>
</body></html>
